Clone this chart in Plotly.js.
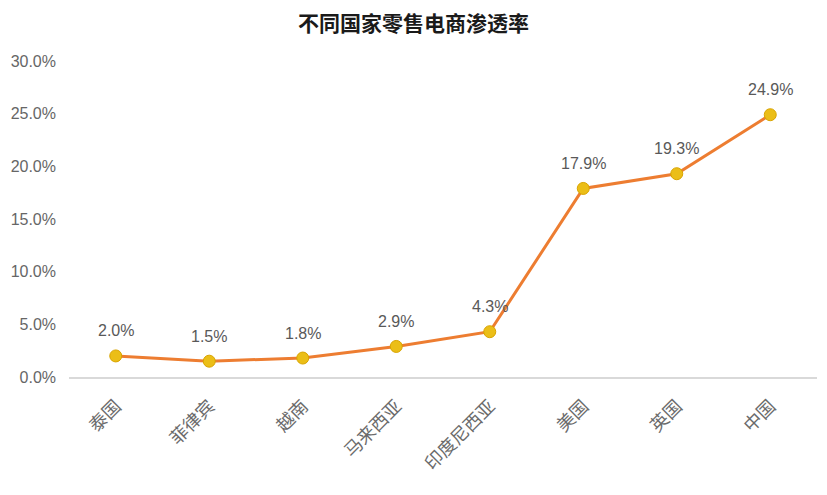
<!DOCTYPE html>
<html>
<head>
<meta charset="utf-8">
<script src="https://cdn.plot.ly/plotly-3.0.1.min.js"></script>
<style>html,body{margin:0;padding:0;background:#fff;}#chart{width:827px;height:495px;}</style>
</head>
<body>
<div id="chart"></div>
<script>
var countries = ["泰国", "菲律宾", "越南", "马来西亚", "印度尼西亚", "美国", "英国", "中国"];
var penetration = [2.0, 1.5, 1.8, 2.9, 4.3, 17.9, 19.3, 24.9];
var yTickVals = [0, 5, 10, 15, 20, 25, 30];
var yTickText = ["0.0%", "5.0%", "10.0%", "15.0%", "20.0%", "25.0%", "30.0%"];
var chartTitle = "不同国家零售电商渗透率";

var fontFam = "'Liberation Sans', Arial, 'Noto Sans CJK SC', sans-serif";

var trace = {
  x: countries,
  y: penetration,
  type: "scatter",
  mode: "lines+markers",
  line: {color: "#ED7D31", width: 3},
  marker: {color: "#EBBE17", size: 12, line: {color: "#D9A400", width: 1}},
  cliponaxis: false,
  hoverinfo: "skip"
};

var labelAnnotations = countries.map(function(c, i){
  return {
    x: c, y: penetration[i], xref: "x", yref: "y",
    text: penetration[i].toFixed(1) + "%",
    showarrow: false, yanchor: "middle", xanchor: "center", yshift: 25,
    font: {family: fontFam, size: 16, color: "#595959"}
  };
});

var layout = {
  width: 827, height: 495,
  margin: {l: 69, r: 10, t: 61, b: 118},
  paper_bgcolor: "#ffffff",
  plot_bgcolor: "#ffffff",
  title: {text: "<b>" + chartTitle + "</b>", x: 0.5, xanchor: "center", y: 0.953, yanchor: "middle",
          font: {family: "'Noto Sans CJK SC', sans-serif", size: 21, color: "#1a1a1a"}},
  showlegend: false,
  annotations: labelAnnotations,
  xaxis: {
    type: "category",
    range: [-0.5, 7.5],
    showgrid: false,
    showline: true,
    linecolor: "#d9d9d9",
    linewidth: 1.5,
    zeroline: false,
    ticks: "",
    tickangle: -45,
    ticklabelstandoff: 10,
    tickfont: {family: "'Noto Sans CJK SC', sans-serif", size: 18, color: "#6b6b6b"}
  },
  yaxis: {
    range: [0, 30],
    tickvals: yTickVals,
    ticktext: yTickText,
    showgrid: false,
    showline: false,
    zeroline: false,
    ticks: "",
    ticklabelstandoff: 12,
    tickfont: {family: fontFam, size: 16, color: "#666666"}
  }
};

Plotly.newPlot("chart", [trace], layout, {displayModeBar: false, staticPlot: true});
</script>
</body>
</html>
